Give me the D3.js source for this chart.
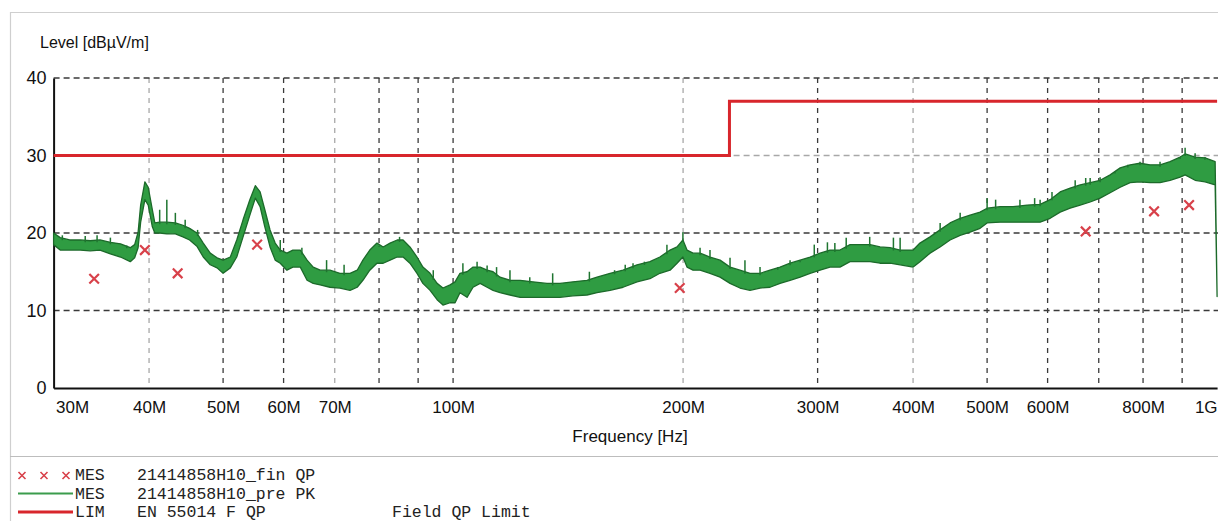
<!DOCTYPE html>
<html>
<head>
<meta charset="utf-8">
<script src="https://cdn.jsdelivr.net/npm/d3@7"></script>
<style>
  html, body { margin: 0; padding: 0; background: #fff; }
  svg { display: block; }
</style>
</head>
<body>
<svg id="chart" width="1218" height="521"></svg>
<script>
// Peak pre-scan (PK): frequency in MHz, lower and upper edge of the trace band in dBµV/m
const freqMHz = [30.0, 30.6, 31.5, 32.5, 33.5, 34.5, 35.6, 36.7, 37.8, 38.3, 38.7, 39.0, 39.5, 39.9,
  40.4, 40.7, 41.3, 42.2, 43.3, 44.3, 45.2, 46.2, 47.1, 48.1, 49.1, 50.0, 51.1, 52.1, 53.1, 54.2,
  55.1, 55.9, 56.7, 57.6, 58.5, 59.4, 60.6, 61.7, 63.1, 64.4, 65.6, 67.0, 69.0, 71.1, 73.3, 74.9,
  76.2, 77.8, 79.5, 81.0, 82.7, 84.5, 86.0, 87.8, 89.7, 91.3, 93.3, 95.3, 97.0, 99.1, 100.6, 102.1,
  104.3, 106.2, 108.5, 110.8, 112.8, 115.2, 118.7, 122.4, 127.2, 132.7, 138.0, 143.5, 149.7, 154.3,
  160.5, 166.9, 174.1, 181.0, 186.5, 192.3, 196.4, 199.9, 202.4, 206.1, 210.5, 216.9, 223.6, 230.4,
  237.4, 244.7, 252.2, 259.9, 267.9, 276.1, 284.6, 293.3, 302.2, 311.4, 320.9, 330.8, 340.9, 351.4,
  362.1, 373.2, 384.7, 400.1, 408.4, 421.0, 433.9, 447.2, 460.9, 475.0, 489.5, 500.0, 519.9, 540.7,
  564.0, 586.6, 604.6, 623.1, 642.2, 661.9, 682.1, 702.9, 724.5, 746.7, 769.5, 792.7, 817.0, 842.0,
  867.8, 894.5, 908.1, 935.9, 964.5, 994.1, 1000.0];
const peakLo = [18.5, 17.8, 17.8, 17.8, 17.7, 17.8, 17.3, 16.9, 16.3, 16.8, 18.1, 21.4, 24.3, 23.6,
  20.8, 20.0, 20.0, 19.9, 19.9, 19.5, 19.1, 18.3, 16.9, 15.9, 15.5, 14.8, 15.5, 16.9, 19.5, 22.3,
  24.5, 23.4, 20.8, 18.2, 16.5, 16.1, 15.2, 15.6, 15.6, 13.9, 13.5, 13.3, 13.0, 12.9, 12.6, 13.0,
  13.9, 15.2, 16.1, 16.1, 16.5, 16.9, 16.9, 16.1, 14.8, 13.5, 12.6, 11.4, 10.7, 11.0, 11.0, 12.3,
  11.7, 13.0, 13.5, 13.0, 12.6, 12.3, 12.0, 11.7, 11.7, 11.7, 11.7, 11.9, 12.0, 12.3,
  12.6, 13.0, 13.7, 14.1, 14.8, 15.2, 16.1, 16.9, 15.6, 15.2, 15.2, 14.8, 14.3, 13.5,
  12.9, 12.6, 12.9, 13.0, 13.5, 13.9, 14.3, 14.8, 15.2, 15.6, 15.6, 16.3, 16.3, 16.3,
  16.1, 16.1, 15.9, 15.6, 16.3, 17.4, 18.2, 19.1, 19.7, 20.1, 20.6, 21.3, 21.4, 21.4,
  21.4, 21.4, 21.9, 22.7, 23.2, 23.6, 24.0, 24.5, 25.2, 25.9, 26.5, 26.6, 26.5, 26.5,
  26.8, 27.2, 27.5, 26.8, 26.6, 26.2, 11.8];
const peakHi = [20.0, 19.4, 19.1, 19.1, 19.0, 19.1, 18.8, 18.6, 18.1, 18.5, 20.1, 23.6, 26.6, 25.9,
  23.0, 21.3, 21.4, 21.4, 21.3, 21.0, 20.6, 20.0, 18.7, 17.4, 16.8, 16.5, 16.9, 19.1, 21.7, 24.3,
  26.1, 25.3, 23.0, 20.4, 18.7, 17.8, 17.4, 17.8, 17.8, 16.5, 15.6, 15.2, 15.2, 14.8, 14.8, 15.2,
  16.5, 17.8, 18.7, 18.2, 18.7, 19.1, 19.1, 18.2, 16.9, 15.6, 14.8, 13.5, 12.9, 13.3, 13.7, 14.8,
  15.0, 15.6, 15.6, 15.2, 15.0, 14.3, 13.9, 13.9, 13.7, 13.5, 13.5, 13.7, 13.9, 14.3,
  14.8, 15.2, 15.9, 16.3, 16.9, 17.8, 18.2, 19.1, 17.8, 17.4, 17.4, 16.9, 16.5, 15.6,
  15.2, 14.8, 14.8, 15.2, 15.6, 16.1, 16.5, 16.9, 17.4, 17.8, 17.8, 18.5, 18.5, 18.5,
  18.2, 18.1, 17.8, 17.8, 18.7, 19.5, 20.4, 21.3, 21.9, 22.3, 22.7, 23.2, 23.4, 23.4,
  23.6, 23.7, 24.3, 25.3, 25.8, 26.2, 26.5, 26.8, 27.5, 28.4, 28.8, 29.0, 28.8, 28.8,
  29.2, 29.8, 30.2, 29.8, 29.7, 29.2, 11.8];

// Isolated peak-detector spikes above the band
const spikeFreq = [30.8, 33.0, 34.2, 35.6, 37.4, 41.3, 42.2, 43.3, 44.6, 46.3, 59.4, 63.4, 68.3,
  72.0, 80.0, 85.1, 94.2, 103.0, 107.5, 110.8, 114.0, 118.7, 126.0, 135.0, 150.8, 162.7, 168.0,
  172.0, 178.0, 190.5, 199.9, 210.5, 216.9, 230.4, 241.0, 252.2, 266.0, 276.1, 284.6, 297.0, 309.0,
  316.0, 327.0, 351.0, 377.0, 384.7, 434.0, 461.0, 500.0, 513.0, 552.0, 577.0, 586.6, 608.0, 652.0,
  673.0, 682.1, 702.9, 735.0, 764.0, 792.7, 842.0, 894.5, 908.1, 935.9, 964.0];
const spikeLevel = [19.7, 19.6, 19.7, 19.4, 18.4, 23.0, 24.3, 22.6, 21.7, 20.4, 19.1, 18.1, 16.5,
  15.9, 18.2, 19.5, 15.2, 16.1, 16.3, 15.8, 15.6, 15.2, 14.3, 14.8, 15.0, 15.2, 15.9,
  16.1, 16.3, 18.5, 20.1, 18.1, 17.8, 16.8, 16.5, 15.6, 15.6, 16.5, 16.5, 18.5, 18.8,
  18.7, 19.4, 19.5, 19.4, 19.4, 21.3, 22.6, 24.5, 24.3, 24.3, 24.5, 24.3, 25.3, 26.8,
  27.1, 27.1, 27.2, 27.9, 28.8, 29.2, 29.2, 29.8, 31.0, 30.3, 29.8];

// Final quasi-peak measurements (QP)
const qpFreq = [33.9, 39.5, 43.6, 55.4, 198.0, 673.0, 827.0, 919.0];
const qpLevel = [14.1, 17.8, 14.8, 18.5, 12.9, 20.2, 22.8, 23.6];

// EN 55014 field QP limit
const limitFreq = [30, 230, 230, 1000];
const limitLevel = [30, 30, 37, 37];

// Axis ticks
const yTicks = [0, 10, 20, 30, 40];
const xGridMHz = [40, 50, 60, 70, 80, 90, 100, 200, 300, 400, 500, 600, 700, 800, 900];
const xGridLight = [40, 70, 200, 400];
const xTickMHz = [30, 40, 50, 60, 70, 100, 200, 300, 400, 500, 600, 800, 1000];
const xTickLabels = ["30M", "40M", "50M", "60M", "70M", "100M", "200M", "300M", "400M", "500M", "600M", "800M", "1G"];

const legendRows = [
  { kind: "MES", name: "21414858H10_fin QP", note: "" },
  { kind: "MES", name: "21414858H10_pre PK", note: "" },
  { kind: "LIM", name: "EN 55014 F QP", note: "Field QP Limit" }
];

const svg = d3.select("#chart");
const sans = "'Liberation Sans', Arial, Helvetica, sans-serif";
const mono = "'Liberation Mono', 'Courier New', monospace";

const x = d3.scaleLog().domain([30, 1000]).range([53.6, 1217.1]);
const y = d3.scaleLinear().domain([0, 40]).range([388, 78]);

// outer frame and separator
svg.append("path")
  .attr("d", "M10.5,521 V12.5 H1218")
  .attr("fill", "none").attr("stroke", "#cfcfcf").attr("stroke-width", 1.2);
svg.append("line")
  .attr("x1", 10).attr("x2", 1218).attr("y1", 456.5).attr("y2", 456.5)
  .attr("stroke", "#bdbdbd").attr("stroke-width", 1.2);

// Y title
svg.append("text")
  .attr("x", 40).attr("y", 48)
  .attr("font-family", sans).attr("font-size", 16).attr("fill", "#111")
  .text("Level [dBµV/m]");

// grid
const grid = svg.append("g");
grid.selectAll("line.v").data(xGridMHz).join("line")
  .attr("class", "v")
  .attr("x1", d => x(d)).attr("x2", d => x(d))
  .attr("y1", y(40)).attr("y2", y(0))
  .attr("stroke", d => xGridLight.includes(d) ? "#a8a8a8" : "#3a3a3a")
  .attr("stroke-width", 1.3)
  .attr("stroke-dasharray", "5,5");
grid.selectAll("line.h").data(yTicks.filter(v => v > 0)).join("line")
  .attr("class", "h")
  .attr("x1", x(30)).attr("x2", 1218)
  .attr("y1", d => y(d)).attr("y2", d => y(d))
  .attr("stroke", d => d === 30 ? "#a8a8a8" : "#3a3a3a")
  .attr("stroke-width", 1.5)
  .attr("stroke-dasharray", "6,4");

// Y axis
const yAxis = d3.axisLeft(y).tickValues(yTicks).tickSize(0).tickPadding(7).tickFormat(d3.format("d"));
const gy = svg.append("g").attr("transform", `translate(${x(30)},0)`).call(yAxis);
gy.select(".domain").attr("stroke", "#111").attr("stroke-width", 2);
gy.selectAll("text").attr("font-family", sans).attr("font-size", 18).attr("fill", "#111");

// X axis
const xAxis = d3.axisBottom(x).tickValues(xTickMHz).tickSize(0).tickPadding(13)
  .tickFormat((d, i) => xTickLabels[i]);
const gx = svg.append("g").attr("transform", `translate(0,${y(0)})`).call(xAxis);
gx.select(".domain").attr("stroke", "#111").attr("stroke-width", 2);
gx.selectAll("text").attr("font-family", sans).attr("font-size", 17).attr("fill", "#111")
  .attr("text-anchor", (d, i) => i === 0 ? "start" : (i === xTickMHz.length - 1 ? "end" : "middle"))
  .attr("dx", (d, i) => i === 0 ? 2 : 0);

svg.append("text")
  .attr("x", 630).attr("y", 442)
  .attr("text-anchor", "middle")
  .attr("font-family", sans).attr("font-size", 17).attr("fill", "#111")
  .text("Frequency [Hz]");

// limit line
const limitPts = limitFreq.map((f, i) => [f, limitLevel[i]]);
svg.append("path")
  .datum(limitPts)
  .attr("d", d3.line().x(d => x(d[0])).y(d => y(d[1])))
  .attr("fill", "none").attr("stroke", "#d8262c").attr("stroke-width", 3);

// PK trace band
const band = freqMHz.map((f, i) => ({ f, lo: peakLo[i], hi: peakHi[i] }));
svg.append("path")
  .datum(band)
  .attr("d", d3.area().x(d => x(d.f)).y0(d => y(d.lo)).y1(d => y(d.hi)))
  .attr("fill", "#2f9c42").attr("stroke", "#1c6a2a").attr("stroke-width", 1.3)
  .attr("stroke-linejoin", "round");

// spikes rising from the band
const hiAt = f => {
  const i = Math.min(band.length - 1, Math.max(1, d3.bisector(d => d.f).left(band, f)));
  const a = band[i - 1], b = band[i];
  const t = (Math.log(f) - Math.log(a.f)) / (Math.log(b.f) - Math.log(a.f));
  return a.hi + (b.hi - a.hi) * t;
};
svg.append("g").selectAll("line").data(spikeFreq.map((f, i) => [f, spikeLevel[i]])).join("line")
  .attr("x1", d => x(d[0])).attr("x2", d => x(d[0]))
  .attr("y1", d => y(hiAt(d[0])) + 2).attr("y2", d => y(d[1]))
  .attr("stroke", "#1f7530").attr("stroke-width", 1.5);

// QP markers
const cross = 4.8;
svg.append("g").selectAll("path").data(qpFreq.map((f, i) => [f, qpLevel[i]])).join("path")
  .attr("d", d => {
    const cx = x(d[0]), cy = y(d[1]);
    return `M${cx - cross},${cy - cross}L${cx + cross},${cy + cross}M${cx - cross},${cy + cross}L${cx + cross},${cy - cross}`;
  })
  .attr("stroke", "#d8414a").attr("stroke-width", 2.2).attr("fill", "none");

// legend
const lg = svg.append("g");
const rowY = [480, 498.5, 517];
legendRows.forEach((r, i) => {
  const yy = rowY[i];
  if (i === 0) {
    [22, 44, 66].forEach(cx => {
      lg.append("path")
        .attr("d", `M${cx - 3.5},${yy - 8}L${cx + 3.5},${yy - 1}M${cx - 3.5},${yy - 1}L${cx + 3.5},${yy - 8}`)
        .attr("stroke", "#d8414a").attr("stroke-width", 1.6).attr("fill", "none");
    });
  } else if (i === 1) {
    lg.append("line").attr("x1", 18).attr("x2", 73).attr("y1", yy - 5).attr("y2", yy - 5)
      .attr("stroke", "#3b9c4c").attr("stroke-width", 2);
  } else {
    lg.append("line").attr("x1", 18).attr("x2", 73).attr("y1", yy - 5).attr("y2", yy - 5)
      .attr("stroke", "#d8262c").attr("stroke-width", 3);
  }
  lg.append("text").attr("x", 75).attr("y", yy)
    .attr("font-family", mono).attr("font-size", 16.5).attr("fill", "#222").text(r.kind);
  lg.append("text").attr("x", 137).attr("y", yy)
    .attr("font-family", mono).attr("font-size", 16.5).attr("fill", "#222").text(r.name);
  if (r.note) {
    lg.append("text").attr("x", 392).attr("y", yy)
      .attr("font-family", mono).attr("font-size", 16.5).attr("fill", "#222").text(r.note);
  }
});
</script>
</body>
</html>
